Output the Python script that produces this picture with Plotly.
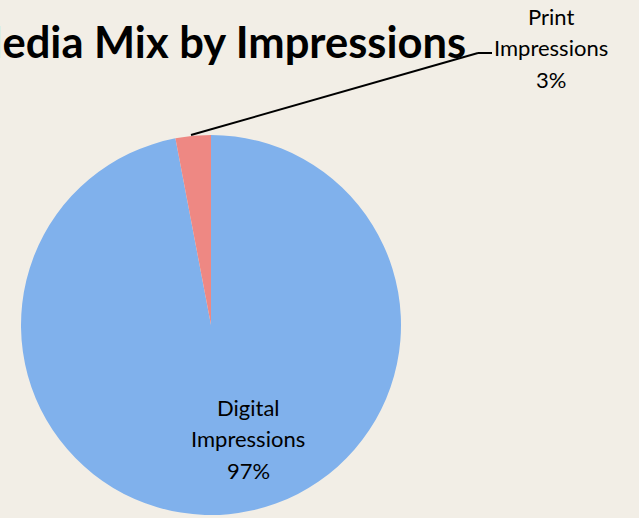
import plotly.graph_objects as go

W, H = 639, 518

labels = ["Digital Impressions", "Print Impressions"]
values = [97, 3]
colors = ["#80B1EC", "#EE8883"]
title_text = "Media Mix by Impressions"

def px(x):
    return x / W

def py(y):
    return 1 - y / H

fig = go.Figure()
fig.add_trace(go.Pie(
    labels=labels,
    values=values,
    sort=False,
    direction="clockwise",
    rotation=0,
    marker=dict(colors=colors, line=dict(width=0)),
    textinfo="none",
    hoverinfo="label+percent",
    showlegend=False,
    domain=dict(x=[px(21), px(401)], y=[py(515), py(135)]),
))

total = sum(values)
pct = [round(v / total * 100) for v in values]

def label_lines(name, p):
    return name.split(" ") + [f"{p}%"]

font = dict(family="Lato, Open Sans, sans-serif", size=22, color="#000000")

def add_label(lines, cx, cy_first, step=31.5):
    for i, t in enumerate(lines):
        fig.add_annotation(x=px(cx), y=py(cy_first + i * step), xref="paper", yref="paper",
                           text=t, showarrow=False, font=font,
                           xanchor="center", yanchor="middle")

add_label(label_lines(labels[0], pct[0]), 248, 407)
add_label(label_lines(labels[1], pct[1]), 551, 16)

fig.add_shape(type="line", xref="paper", yref="paper",
              x0=px(191), y0=py(135), x1=px(478), y1=py(53),
              line=dict(color="black", width=2))
fig.add_shape(type="line", xref="paper", yref="paper",
              x0=px(478), y0=py(53), x1=px(492), y1=py(53),
              line=dict(color="black", width=2))

fig.add_annotation(x=px(468), y=py(41), xref="paper", yref="paper",
                   text=f"<b>{title_text}</b>", showarrow=False,
                   font=dict(family="Lato, Open Sans, sans-serif", size=43.5, color="#000000"),
                   xanchor="right", yanchor="middle")

fig.update_layout(
    width=W, height=H,
    margin=dict(l=0, r=0, t=0, b=0),
    paper_bgcolor="#F2EEE6",
    plot_bgcolor="#F2EEE6",
)

fig.write_html("out.html")
